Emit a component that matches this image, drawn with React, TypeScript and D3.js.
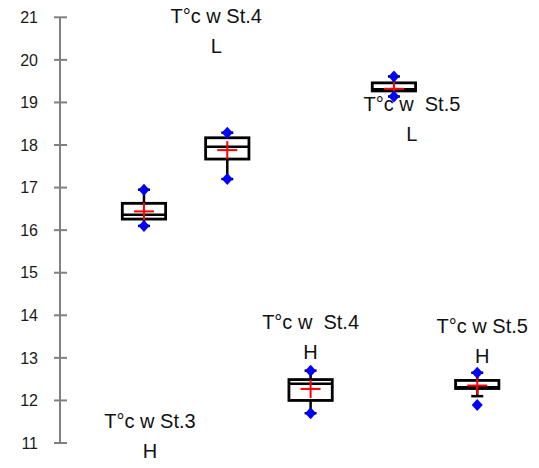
import React from "react";
import * as d3 from "d3";

// ---- data ----
const categories = ["T°c w St.3 H", "T°c w St.4 L", "T°c w St.4 H", "T°c w St.5 L", "T°c w St.5 H"];
const labelLine1 = ["T°c w St.3", "T°c w St.4", "T°c w  St.4", "T°c w  St.5", "T°c w St.5"];
const labelLine2 = ["H", "L", "H", "L", "H"];
const minValues = [16.1, 17.2, 11.7, 19.14, 11.89];
const whiskerLow = [16.1, 17.2, 11.7, 19.14, 12.1];
const q1Values = [16.26, 17.67, 12.0, 19.27, 12.28];
const medianValues = [16.36, 17.96, 12.39, 19.31, 12.31];
const meanValues = [16.44, 17.88, 12.27, 19.32, 12.35];
const q3Values = [16.63, 18.17, 12.49, 19.46, 12.47];
const whiskerHigh = [16.95, 18.29, 12.7, 19.61, 12.65];
const maxValues = [16.95, 18.29, 12.7, 19.61, 12.65];
const yTicks = [11, 12, 13, 14, 15, 16, 17, 18, 19, 20, 21];
// label anchors (value of first-line baseline) and horizontal nudges
const labelAnchorValue = [11.36, 20.87, 13.68, 18.8, 13.59];
const labelNudge = [6, -11, 0, 18, 5];

const W = 539;
const H = 468;

export default function App() {
  const y = d3.scaleLinear().domain([11, 21]).range([443, 17.3]);
  const x = d3
    .scaleBand<string>()
    .domain(categories)
    .range([102.3, 518.9])
    .paddingInner(0.48)
    .paddingOuter(0.24);
  const bw = x.bandwidth();
  const font = "'Liberation Sans', Arial, sans-serif";

  return (
    <div style={{ position: "absolute", left: 0, top: 0 }}>
      <svg width={W} height={H} style={{ display: "block", background: "#fff" }}>
        {/* y axis */}
        <line x1={60} x2={60} y1={y(21)} y2={y(11)} stroke="#808080" strokeWidth={2} />
        {yTicks.map((t) => (
          <g key={t}>
            <line x1={54} x2={67} y1={y(t)} y2={y(t)} stroke="#808080" strokeWidth={2} />
            <text
              x={38}
              y={y(t)}
              dy="0.36em"
              textAnchor="end"
              fontFamily={font}
              fontSize={16}
              fill="#1a1a1a"
            >
              {t}
            </text>
          </g>
        ))}

        {/* boxes */}
        {categories.map((c, i) => {
          const x0 = x(c)!;
          const cx = x0 + bw / 2;
          return (
            <g key={c}>
              <line x1={cx} x2={cx} y1={y(q3Values[i])} y2={y(whiskerHigh[i])} stroke="#000" strokeWidth={2.5} />
              <line x1={cx} x2={cx} y1={y(q1Values[i])} y2={y(whiskerLow[i])} stroke="#000" strokeWidth={2.5} />
              <line x1={cx - 6} x2={cx + 6} y1={y(whiskerLow[i])} y2={y(whiskerLow[i])} stroke="#000" strokeWidth={2.5} />
              <line x1={cx - 6} x2={cx + 6} y1={y(whiskerHigh[i])} y2={y(whiskerHigh[i])} stroke="#000" strokeWidth={2.5} />
              <rect
                x={x0}
                y={y(q3Values[i])}
                width={bw}
                height={y(q1Values[i]) - y(q3Values[i])}
                fill="#fff"
                stroke="#000"
                strokeWidth={2.8}
              />
              <line x1={x0} x2={x0 + bw} y1={y(medianValues[i])} y2={y(medianValues[i])} stroke="#000" strokeWidth={2.5} />
              {/* mean cross */}
              <line x1={cx - 10} x2={cx + 10} y1={y(meanValues[i])} y2={y(meanValues[i])} stroke="#ff0000" strokeWidth={2} />
              <line x1={cx} x2={cx} y1={y(meanValues[i]) - 9} y2={y(meanValues[i]) + 9} stroke="#ff0000" strokeWidth={2} />
              {/* min/max diamonds */}
              {[minValues[i], maxValues[i]].map((v, k) => (
                <path
                  key={k}
                  d={`M${cx},${y(v) - 6}L${cx + 5.5},${y(v)}L${cx},${y(v) + 6}L${cx - 5.5},${y(v)}Z`}
                  fill="#0000ff"
                />
              ))}
            </g>
          );
        })}

        {/* category labels */}
        {categories.map((c, i) => {
          const cx = x(c)! + bw / 2 + labelNudge[i];
          const by = y(labelAnchorValue[i]);
          return (
            <g key={"l" + c} fontFamily={font} fontSize={20} fill="#111" textAnchor="middle">
              <text x={cx} y={by} style={{ whiteSpace: "pre" }}>
                {labelLine1[i]}
              </text>
              <text x={cx} y={by + 30}>{labelLine2[i]}</text>
            </g>
          );
        })}
      </svg>
    </div>
  );
}
